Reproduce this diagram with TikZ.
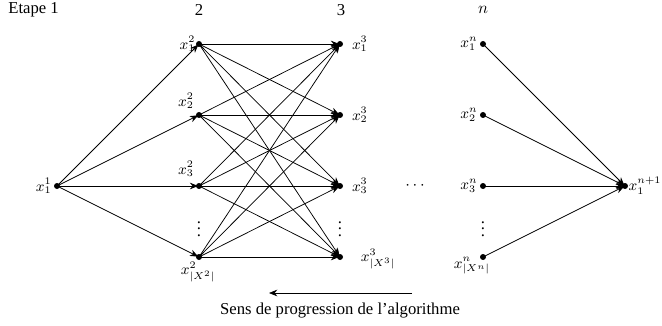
\documentclass[tikz,border=0pt]{standalone}
\usepackage{fontspec}
\setmainfont{Liberation Serif}
\usetikzlibrary{arrows.meta}
\begin{document}
\begin{tikzpicture}[x=0.6pt,y=-0.6pt,
  pt/.style={circle,fill=black,inner sep=0pt,minimum size=3.6pt},
  arr/.style={-{Stealth[length=5pt,width=4pt]},line width=0.45pt,shorten >=0.5pt},
  lbl/.style={inner sep=1pt,font=\small}]
\useasboundingbox (0,0) rectangle (662,326);
% headings
\node[anchor=west,inner sep=0pt] (h1) at (8,10) {Etape 1};
\node[inner sep=0pt] (h2) at (199,10) {2};
\node[inner sep=0pt] (h3) at (341,10) {3};
\node[inner sep=0pt] (hn) at (483,10) {$n$};
% nodes
\node[pt] (a) at (57,186) {};
\node[lbl,anchor=east] at (a.west) {$x_1^1$};
\foreach \i/\y in {1/44,2/115,3/186,4/257}{
  \node[pt] (b\i) at (199,\y) {};
  \node[pt] (c\i) at (340,\y) {};
  \node[pt] (n\i) at (483,\y) {};
}
\node[pt] (z) at (625,186) {};
% labels
\node[lbl,anchor=east] at ([xshift=1pt]b1.west) {$x_1^2$};
\node[lbl] at (186,101) {$x_2^2$};
\node[lbl] at (186,169) {$x_3^2$};
\node[lbl] at (198,272) {$x_{|X^2|}^2$};
\node[lbl,anchor=west] at ([xshift=4pt]c1.east) {$x_1^3$};
\node[lbl,anchor=west] at ([xshift=4pt]c2.east) {$x_2^3$};
\node[lbl,anchor=west] at ([xshift=4pt]c3.east) {$x_3^3$};
\node[lbl] at (378,259) {$x_{|X^3|}^3$};
\node[lbl,anchor=east] at (n1.west) {$x_1^n$};
\node[lbl,anchor=east] at (n2.west) {$x_2^n$};
\node[lbl,anchor=east] at (n3.west) {$x_3^n$};
\node[lbl] at (472,266) {$x_{|X^n|}^n$};
\node[lbl,anchor=west] at ([xshift=-1pt]z.east) {$x_1^{n+1}$};
% dots
\node[inner sep=0pt] (vd2) at (199,224) {$\vdots$};
\node[inner sep=0pt] (vd3) at (340,224) {$\vdots$};
\node[inner sep=0pt] (vdn) at (483,224) {$\vdots$};
\node[inner sep=0pt] (hd) at (415,186) {$\cdots$};
% edges
\foreach \i in {1,...,4}{
  \draw[arr] (a.center) -- (b\i.center);
  \draw[arr] (n\i.center) -- (z.center);
  \foreach \j in {1,...,4}{
    \draw[arr] (b\i.center) -- (c\j.center);
  }
}
% direction arrow
\coordinate (s) at (412,293);
\coordinate (e) at (269,293);
\draw[-{Stealth[length=5pt,width=4pt]},line width=0.45pt] (s) -- (e);
\node[inner sep=0pt] (t) at (340,311) {Sens de progression de l’algorithme};
\end{tikzpicture}
\end{document}
